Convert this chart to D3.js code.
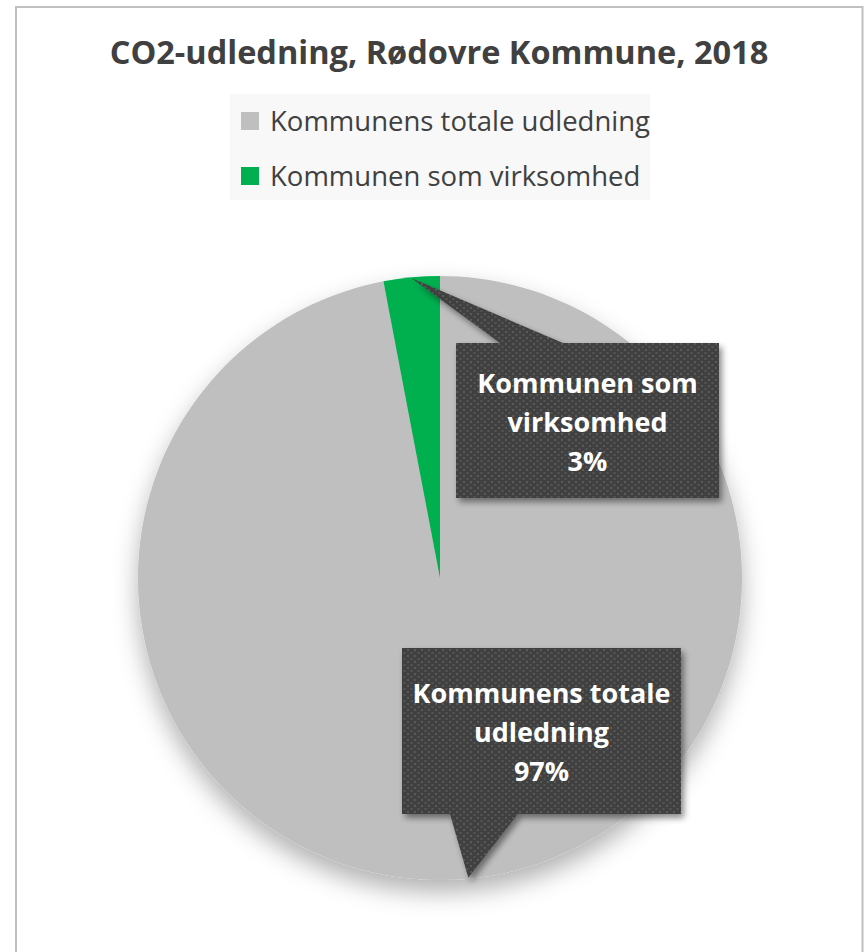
<!DOCTYPE html>
<html>
<head>
<meta charset="utf-8">
<script src="https://cdn.jsdelivr.net/npm/d3@7"></script>
<style>
  html, body { margin: 0; padding: 0; background: #ffffff; }
  svg { display: block; }
  text { font-family: "Open Sans", "Noto Sans", sans-serif; }
</style>
</head>
<body>
<svg id="chart" width="864" height="952"></svg>
<script>
// ---- data ----
const title = "CO2-udledning, Rødovre Kommune, 2018";
const categories = ["Kommunens totale udledning", "Kommunen som virksomhed"];
const values = [97, 3];
const labelLines = [["Kommunens totale", "udledning"], ["Kommunen som", "virksomhed"]];
const colors = ["#bfbfbf", "#00b050"];

// ---- layout ----
const W = 864, H = 952;
const cx = 440, cy = 578, R = 302;
const svg = d3.select("#chart");
const defs = svg.append("defs");

const pieShadow = defs.append("filter").attr("id", "pieShadow")
  .attr("x", "-30%").attr("y", "-30%").attr("width", "160%").attr("height", "160%");
pieShadow.append("feDropShadow").attr("dx", 0).attr("dy", 12)
  .attr("stdDeviation", 12).attr("flood-color", "#000").attr("flood-opacity", 0.3);

const boxShadow = defs.append("filter").attr("id", "boxShadow")
  .attr("x", "-20%").attr("y", "-20%").attr("width", "140%").attr("height", "140%");
boxShadow.append("feDropShadow").attr("dx", 3).attr("dy", 4)
  .attr("stdDeviation", 3).attr("flood-color", "#000").attr("flood-opacity", 0.45);

const pat = defs.append("pattern").attr("id", "dots")
  .attr("patternUnits", "userSpaceOnUse").attr("width", 7).attr("height", 6);
pat.append("rect").attr("width", 7).attr("height", 6).attr("fill", "#404040");
pat.append("rect").attr("x", 1).attr("y", 1).attr("width", 2).attr("height", 2).attr("fill", "#5a5a5a");
pat.append("rect").attr("x", 4.5).attr("y", 4).attr("width", 2).attr("height", 2).attr("fill", "#555555");

// chart area border
svg.append("rect").attr("x", 16).attr("y", 7).attr("width", 846.5).attr("height", 960)
  .attr("fill", "#ffffff").attr("stroke", "#c0c0c0").attr("stroke-width", 2);

// title
svg.append("text").attr("x", 439).attr("y", 64).attr("text-anchor", "middle")
  .attr("font-size", 32.5).attr("font-weight", "bold").attr("fill", "#404040")
  .text(title);

// legend
const legend = svg.append("g");
legend.append("rect").attr("x", 230).attr("y", 94).attr("width", 420).attr("height", 106).attr("fill", "#f8f8f8");
const lg = legend.selectAll("g.item").data(categories).join("g").attr("class", "item")
  .attr("transform", (d, i) => `translate(241, ${112 + i * 55})`);
lg.append("rect").attr("width", 18).attr("height", 18).attr("fill", (d, i) => colors[i]);
lg.append("text").attr("x", 29).attr("y", 19).attr("font-size", 27.5).attr("fill", "#404040")
  .text(d => d);

// pie
const total = d3.sum(values);
const pie = d3.pie().sort(null).value(d => d).startAngle(0).endAngle(2 * Math.PI);
const arcs = pie(values);
const arc = d3.arc().innerRadius(0).outerRadius(R);
const rimArc = d3.arc().innerRadius(R - 1).outerRadius(R - 1);

const pg = svg.append("g").attr("transform", `translate(${cx},${cy})`).attr("filter", "url(#pieShadow)");
pg.selectAll("path").data(arcs).join("path")
  .attr("d", arc).attr("fill", (d, i) => colors[i]);

// callouts
const pct = d3.format(".0%");
const boxes = [
  { x0: 402, y0: 648, x1: 681, y1: 814, side: "bottom", b0: 450, b1: 518, baselines: [703, 742, 781] },
  { x0: 456, y0: 343, x1: 719, y1: 498, side: "top", b0: 500, b1: 563, baselines: [392.5, 431.5, 471] }
];
arcs.forEach((a, i) => {
  const b = boxes[i];
  const c = rimArc.centroid(a);
  const tx = cx + c[0], ty = cy + c[1];
  let p;
  if (b.side === "top") {
    p = `M${b.x0},${b.y0} L${b.b0},${b.y0} L${tx},${ty} L${b.b1},${b.y0} L${b.x1},${b.y0} L${b.x1},${b.y1} L${b.x0},${b.y1} Z`;
  } else {
    p = `M${b.x0},${b.y0} L${b.x1},${b.y0} L${b.x1},${b.y1} L${b.b1},${b.y1} L${tx},${ty} L${b.b0},${b.y1} L${b.x0},${b.y1} Z`;
  }
  svg.append("path").attr("d", p).attr("fill", "url(#dots)").attr("filter", "url(#boxShadow)");
  const lines = labelLines[i].concat([pct(values[i] / total)]);
  const mx = (b.x0 + b.x1) / 2;
  svg.append("g").selectAll("text").data(lines).join("text")
    .attr("x", mx).attr("y", (d, j) => b.baselines[j])
    .attr("text-anchor", "middle").attr("font-size", 27).attr("font-weight", "bold")
    .attr("fill", "#ffffff").text(d => d);
});
</script>
</body>
</html>
